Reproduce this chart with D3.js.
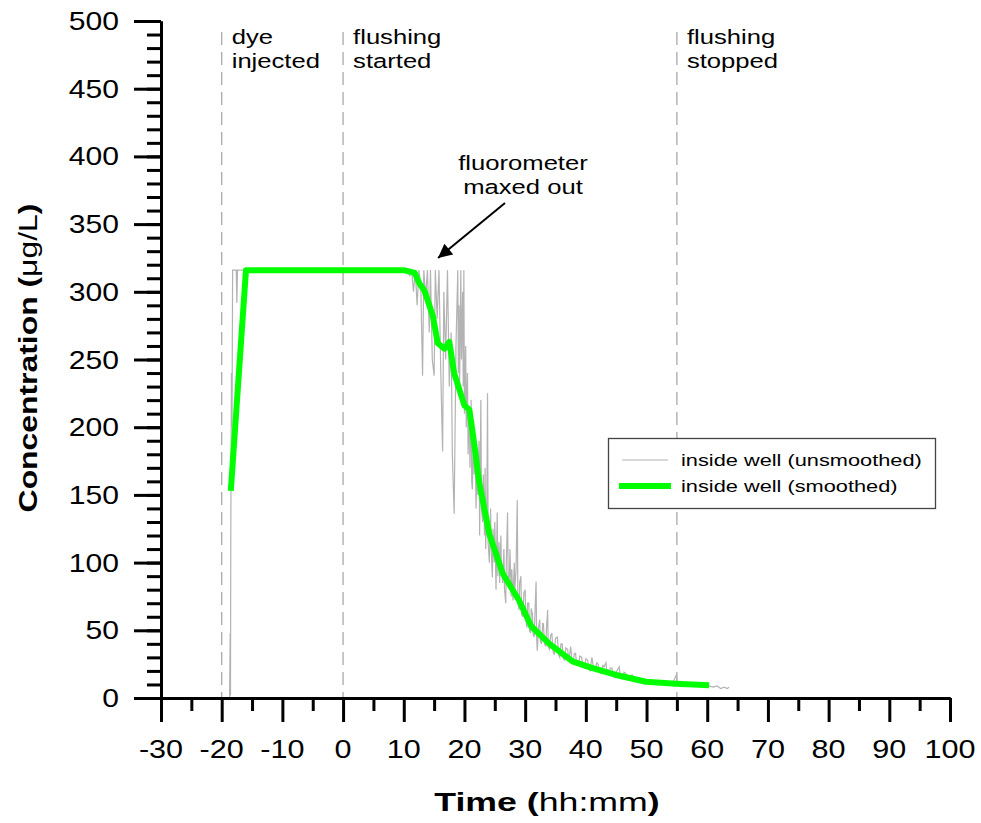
<!DOCTYPE html>
<html>
<head>
<meta charset="utf-8">
<script src="https://cdn.jsdelivr.net/npm/d3@7"></script>
<style>
  body { margin: 0; background: #fff; }
  svg { display: block; font-family: "Liberation Sans", Arial, sans-serif; }
</style>
</head>
<body>
<div id="chart"></div>
<script>
// raw fluorometer readings (time in minutes relative to flushing start)
var rawTime = [
  -20.8, -19, -18.7, -18.6, -18.55, -18.5, -18.4, -18.3, -18.2, -17.6,
  -17.5, -17.4, 10.5, 11, 11.3, 11.6, 11.9, 12.2, 12.5, 12.8,
  13.1, 13.3, 13.6, 13.9, 14.2, 14.4, 14.7, 15, 15.2, 15.5,
  15.8, 16.1, 16.4, 16.6, 16.9, 17.2, 17.5, 17.8, 18, 18.3,
  18.6, 18.9, 19, 19.1, 19.2, 19.4, 19.5, 19.7, 19.8, 19.9,
  20, 20.2, 20.3, 20.5, 20.6, 20.8, 20.9, 21.1, 21.2, 21.3,
  21.5, 21.6, 21.8, 21.9, 22.1, 22.2, 22.4, 22.5, 22.7, 22.8,
  23, 23.1, 23.3, 23.4, 23.5, 23.7, 23.8, 23.9, 24.1, 24.3,
  24.4, 24.6, 24.7, 24.9, 25, 25.2, 25.4, 25.5, 25.7, 25.8,
  26, 26.1, 26.3, 26.5, 26.6, 26.8, 26.9, 27.1, 27.2, 27.4,
  27.5, 27.7, 27.8, 28, 28.2, 28.3, 28.5, 28.7, 28.8, 29,
  29.1, 29.3, 29.4, 29.6, 29.8, 30, 30.1, 30.3, 30.4, 30.6,
  30.7, 30.9, 31, 31.2, 31.3, 31.5, 31.6, 31.8, 31.9, 32,
  32.2, 32.4, 32.5, 32.7, 32.9, 33, 33.2, 33.4, 33.5, 33.7,
  33.8, 34, 34.2, 34.4, 34.6, 34.8, 35, 35.3, 35.5, 35.7,
  35.9, 36.1, 36.3, 36.5, 36.7, 37, 37.2, 37.5, 37.7, 37.9,
  38.1, 38.3, 38.5, 38.8, 39, 39.3, 39.5, 39.8, 40, 40.3,
  40.5, 40.7, 40.9, 41, 41.3, 41.5, 41.8, 42, 42.3, 42.5,
  42.8, 43, 43.3, 43.5, 43.8, 44, 44.3, 44.5, 44.8, 45.1,
  45.5, 45.7, 46, 46.3, 46.6, 46.9, 47.2, 47.5, 47.7, 48,
  48.3, 48.6, 49, 49.3, 49.7, 50.1, 50.5, 50.9, 51.3, 52,
  52.8, 53.5, 54.2, 54.9, 55.1, 55.8, 56.5, 57.3, 58, 58.8,
  59.5, 60.3, 61, 61.6, 62.2, 62.8, 63.3, 63.6];
var rawConc = [
  0, 0, 0, 48, 2, 120, 240, 200, 316, 316,
  292, 316, 316, 312, 316, 300, 316, 290, 316, 305,
  238, 316, 296, 316, 270, 316, 250, 238, 316, 280,
  316, 240, 182, 300, 250, 316, 230, 270, 180, 136,
  260, 316, 240, 290, 230, 316, 250, 300, 230, 316,
  210, 260, 200, 240, 180, 215, 170, 220, 160, 154,
  205, 165, 190, 140, 175, 150, 190, 120, 220, 140,
  130, 165, 120, 170, 110, 150, 225, 115, 100, 140,
  110, 89, 125, 100, 130, 80, 137, 90, 115, 85,
  120, 95, 85, 110, 80, 70, 100, 137, 85, 90,
  110, 75, 95, 72, 100, 80, 95, 146, 70, 65,
  85, 90, 62, 60, 78, 80, 58, 52, 70, 70,
  50, 48, 66, 62, 47, 45, 60, 86, 44, 35,
  52, 58, 42, 40, 55, 55, 40, 38, 50, 65,
  38, 36, 46, 48, 34, 32, 44, 45, 32, 30,
  40, 40, 29, 28, 37, 36, 27, 38, 28, 25,
  33, 33, 24, 24, 31, 30, 23, 22, 29, 28,
  21, 20, 27, 30, 21, 20, 26, 25, 19, 18,
  24, 23, 26, 18, 17, 22, 22, 16, 15, 20,
  23, 15, 14, 19, 18, 13, 13, 17, 17, 12,
  12, 15, 14, 11, 11, 13, 13, 10, 10, 12,
  10, 12, 10, 17, 10, 12, 10, 11, 10, 10,
  9, 9, 8, 9, 7, 8, 7, 8];

// smoothed curve
var smoothTime = [-18.5, -16, 10, 11.8, 12.6, 13.4, 14.8, 15.6, 16.7, 17.5, 18.3, 20, 20.8, 21.6, 22.4,
  24.1, 26.3, 29, 31, 34, 37.8, 41.1, 45, 49.9, 54.9, 60.3];
var smoothConc = [153, 316, 316, 314, 306, 301, 282, 262, 258, 263, 240, 216, 213, 188, 160,
  121, 92, 72, 53, 40, 27, 22, 17, 12, 10.6, 9.4];

// event markers
var eventTime = [-20, 0, 55];
var eventLabel = [["dye", "injected"], ["flushing", "started"], ["flushing", "stopped"]];

var seriesNames = ["inside well (unsmoothed)", "inside well (smoothed)"];
var xTicks = [-30, -20, -10, 0, 10, 20, 30, 40, 50, 60, 70, 80, 90, 100];
var yTicks = [0, 50, 100, 150, 200, 250, 300, 350, 400, 450, 500];

var W = 981, H = 823;
var x = d3.scaleLinear().domain([-30, 100]).range([161, 950]);
var y = d3.scaleLinear().domain([0, 500]).range([698, 21]);

var svg = d3.select("#chart").append("svg").attr("width", W).attr("height", H);

// stretch text horizontally like the original export
function stretch(sel, sx) {
  sel.each(function() {
    var t = d3.select(this);
    var tx = +t.attr("x") || 0, ty = +t.attr("y") || 0;
    t.attr("x", 0).attr("y", 0)
     .attr("transform", "translate(" + tx + "," + ty + ") scale(" + sx + ",1)");
  });
}

// dashed event lines
svg.selectAll(".evt").data(eventTime).enter().append("line")
  .attr("x1", d => x(d)).attr("x2", d => x(d))
  .attr("y1", 32).attr("y2", y(0))
  .attr("stroke", "#aaa").attr("stroke-width", 1.3)
  .attr("stroke-dasharray", "13,7");

eventTime.forEach(function(t, i) {
  eventLabel[i].forEach(function(s, j) {
    svg.append("text").attr("class", "evtlab")
      .attr("x", x(t) + 10).attr("y", 44 + j * 24)
      .attr("font-size", 20.5).text(s);
  });
});
stretch(svg.selectAll(".evtlab"), 1.25);

// data lines
var line = d3.line().x(d => x(d[0])).y(d => y(d[1]));
svg.append("path").datum(rawTime.map((t, i) => [t, rawConc[i]]))
  .attr("d", line).attr("fill", "none")
  .attr("stroke", "#b3b3b3").attr("stroke-width", 1.2);
svg.append("path").datum(smoothTime.map((t, i) => [t, smoothConc[i]]))
  .attr("d", line).attr("fill", "none")
  .attr("stroke", "#00ff00").attr("stroke-width", 6)
  .attr("stroke-linejoin", "round");

// axes
function styleAxis(g) {
  g.selectAll("path, line").attr("stroke", "#000").attr("stroke-width", 3);
  g.selectAll("text").remove();
}
svg.append("g").attr("transform", "translate(161,0)")
  .call(d3.axisLeft(y).tickValues(d3.range(0, 501, 10)).tickSize(14).tickSizeOuter(0))
  .call(styleAxis);
svg.append("g").attr("transform", "translate(161,0)")
  .call(d3.axisLeft(y).tickValues(yTicks).tickSize(27).tickSizeOuter(0))
  .call(styleAxis);
svg.append("g").attr("transform", "translate(0," + y(0) + ")")
  .call(d3.axisBottom(x).tickValues(d3.range(-25, 100, 10)).tickSize(13).tickSizeOuter(0))
  .call(styleAxis);
svg.append("g").attr("transform", "translate(0," + y(0) + ")")
  .call(d3.axisBottom(x).tickValues(xTicks).tickSize(24).tickSizeOuter(0))
  .call(styleAxis);

svg.selectAll(".ylab").data(yTicks).enter().append("text").attr("class", "ylab")
  .attr("x", 119).attr("y", d => y(d) + 9)
  .attr("text-anchor", "end").attr("font-size", 25.5).text(d => d);
stretch(svg.selectAll(".ylab"), 1.18);

svg.selectAll(".xlab").data(xTicks).enter().append("text").attr("class", "xlab")
  .attr("x", d => x(d)).attr("y", 758)
  .attr("text-anchor", "middle").attr("font-size", 25.5).text(d => d);
stretch(svg.selectAll(".xlab"), 1.2);

// axis titles
var xt = svg.append("text").attr("text-anchor", "middle").attr("font-size", 25.5)
  .attr("transform", "translate(547,811) scale(1.4,1)");
xt.append("tspan").attr("font-weight", "bold").text("Time (");
xt.append("tspan").text("hh:mm");
xt.append("tspan").attr("font-weight", "bold").text(")");

var yt = svg.append("text").attr("text-anchor", "middle").attr("font-size", 25.5)
  .attr("transform", "translate(37,358) rotate(-90) scale(1.25,1)");
yt.append("tspan").attr("font-weight", "bold").text("Concentration (");
yt.append("tspan").text("μg/L");
yt.append("tspan").attr("font-weight", "bold").text(")");

// annotation
svg.append("defs").append("marker").attr("id", "arr")
  .attr("viewBox", "0 0 10 10").attr("refX", 10).attr("refY", 5)
  .attr("markerWidth", 9).attr("markerHeight", 7).attr("markerUnits", "strokeWidth")
  .attr("orient", "auto")
  .append("path").attr("d", "M0,0L10,5L0,10z").attr("fill", "#000");
svg.append("line").attr("x1", 505).attr("y1", 203).attr("x2", 438).attr("y2", 258)
  .attr("stroke", "#000").attr("stroke-width", 2).attr("marker-end", "url(#arr)");
["fluorometer", "maxed out"].forEach(function(s, j) {
  svg.append("text").attr("class", "ann").attr("x", 523).attr("y", 170 + j * 24)
    .attr("text-anchor", "middle").attr("font-size", 20.5).text(s);
});
stretch(svg.selectAll(".ann"), 1.25);

// legend
var lg = svg.append("g");
lg.append("rect").attr("x", 608.5).attr("y", 438.5).attr("width", 327).attr("height", 70)
  .attr("fill", "#fff").attr("stroke", "#444").attr("stroke-width", 1.3);
lg.append("line").attr("x1", 622).attr("x2", 668).attr("y1", 460).attr("y2", 460)
  .attr("stroke", "#b3b3b3").attr("stroke-width", 1.2);
lg.append("line").attr("x1", 619).attr("x2", 671).attr("y1", 486).attr("y2", 486)
  .attr("stroke", "#00ff00").attr("stroke-width", 6);
lg.selectAll(".leg").data(seriesNames).enter().append("text").attr("class", "leg")
  .attr("x", 681).attr("y", (d, i) => 466 + i * 26)
  .attr("font-size", 16.5).text(d => d);
stretch(lg.selectAll(".leg"), 1.32);
</script>
</body>
</html>
